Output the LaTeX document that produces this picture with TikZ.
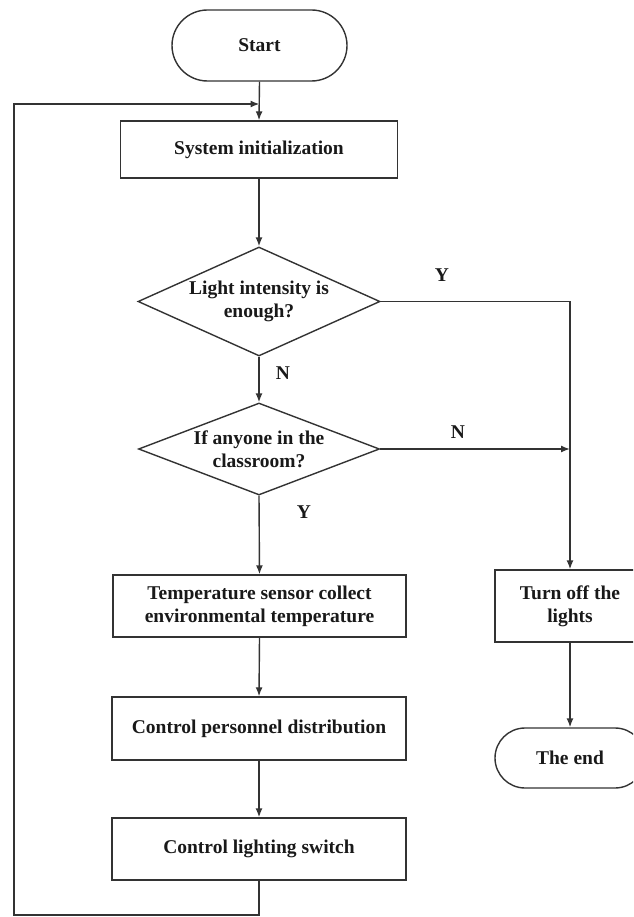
\documentclass[tikz,border=0pt]{standalone}
\usepackage{fontspec}
\setmainfont{Liberation Serif}
\usetikzlibrary{shapes.geometric,shapes.misc,arrows.meta}
\begin{document}
\begin{tikzpicture}[x=1pt,y=-1pt,
  every node/.style={font=\fontsize{19.5}{23}\selectfont\bfseries, text=black!90},
  shapeline/.style={draw=black!80, line width=1.4pt},
  box/.style={shapeline, rectangle, inner sep=0pt, align=center},
  term/.style={shapeline, rounded rectangle, inner sep=0pt},
  dec/.style={shapeline, diamond, inner sep=-8pt, align=center},
  lbl/.style={inner sep=0pt},
  conn/.style={line width=1.4pt, draw=black!80},
  arr/.style={conn, -{Latex[length=9pt,width=7pt]}}]
\useasboundingbox (0,0) rectangle (633,917);
\clip (0,0) rectangle (633,917);

% nodes
\node[term, minimum width=175pt, minimum height=71pt] (start) at (259.5,45.5) {Start};
\node[box, minimum width=277pt, minimum height=57pt] (init) at (259,149.5) {System initialization};
\node[dec, aspect=2.22, minimum width=242pt, minimum height=109pt] (d1) at (259,301.5) {Light intensity is\\enough?};
\node[dec, aspect=2.62, minimum width=241pt, minimum height=92pt] (d2) at (259,449) {If anyone in the\\classroom?};
\node[box, minimum width=293pt, minimum height=62pt] (temp) at (259.5,606) {Temperature sensor collect\\environmental temperature};
\node[box, minimum width=294pt, minimum height=63pt] (pers) at (259,728.5) {Control personnel distribution};
\node[box, minimum width=294pt, minimum height=62pt] (light) at (259,849) {Control lighting switch};
\node[box, minimum width=150pt, minimum height=72pt] (off) at (570,606) {Turn off the\\lights};
\node[term, minimum width=150pt, minimum height=60pt] (theend) at (570,758) {The end};

% branch labels
\node[lbl] (ly1) at (442,275) {Y};
\node[lbl] (ln1) at (283,373) {N};
\node[lbl] (ln2) at (458,432) {N};
\node[lbl] (ly2) at (304,512) {Y};

% helper coordinates for the feedback loop
\coordinate (fbL) at (14,915);
\coordinate (fbT) at (14,104);

% connectors
\draw[arr] (start.south) -- (init.north);
\draw[arr] (init.south) -- (d1.north);
\draw[arr] (d1.south) -- (d2.north);
\draw[arr] (d2.south) -- (temp.north);
\draw[arr] (temp.south) -- (pers.north);
\draw[arr] (pers.south) -- (light.north);
\draw[arr] (d1.east) -| (off.north);
\draw[arr] (d2.east) -- (d2.east -| off.north);
\draw[arr] (off.south) -- (theend.north);
\draw[arr] (light.south) |- (fbL) -- (fbT) -- (fbT -| start.south);
\end{tikzpicture}
\end{document}
